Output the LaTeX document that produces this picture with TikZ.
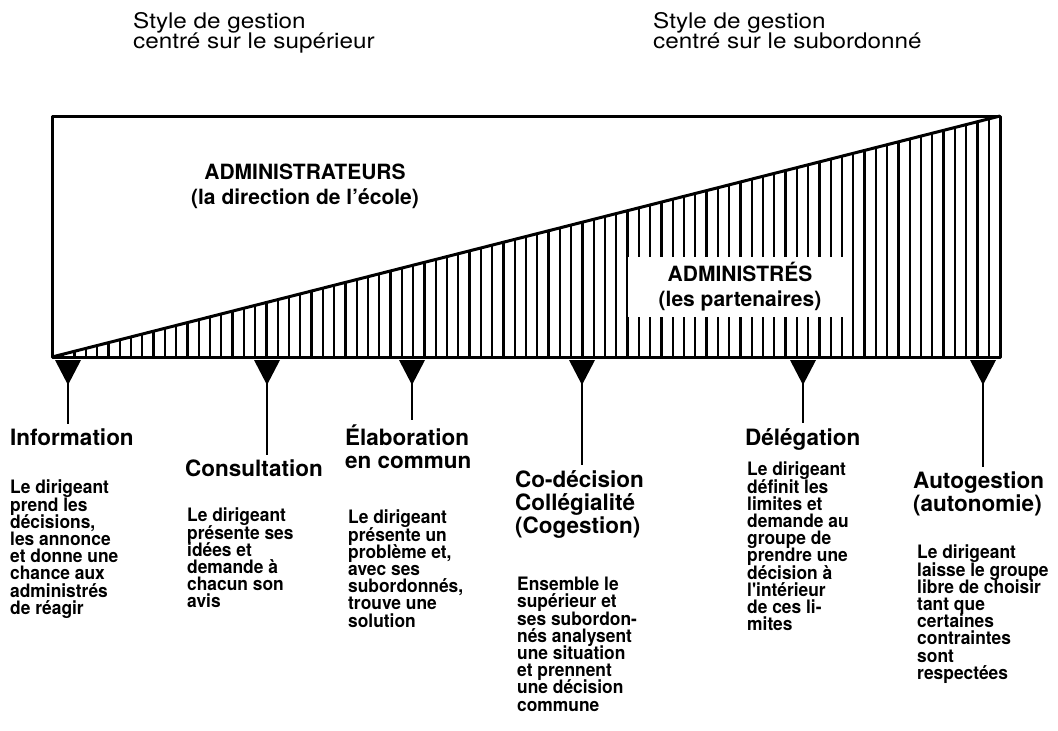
\documentclass[tikz,border=0pt]{standalone}
\usepackage{fontspec}
\setmainfont{TeX Gyre Heros}
\newfontfamily\widefont[FakeStretch=1.13]{TeX Gyre Heros}
\newfontfamily\narrowfont[FakeStretch=0.94]{TeX Gyre Heros}
\newcommand{\fsz}[2]{\fontsize{#1}{#2}\selectfont\lineskiplimit=-\maxdimen}

\begin{document}
\begin{tikzpicture}[x=1pt,y=-1pt,
	frame/.style={line width=3pt,line join=round},
	hatch/.style={line width=2.2pt},
	stem/.style={line width=2.5pt},
	top/.style={anchor=north west,inner sep=0pt,align=left,font=\widefont\fsz{21.5}{20.5}},
	head/.style={anchor=north west,inner sep=0pt,align=left,font=\fsz{22.5}{23}\bfseries},
	desc/.style={anchor=north west,inner sep=0pt,align=left,font=\narrowfont\fsz{18.5}{17.2}\bfseries},
	who/.style={align=center,inner sep=0pt,font=\fsz{21}{25}\bfseries}]
	\useasboundingbox (0,0) rectangle (1058,731);
	
	\coordinate (bl) at (52,357);
	\coordinate (tr) at (1000,116);
	
	\node[top] (sup) at (133,12) {Style de gestion\\centré sur le supérieur};
	\node[top] (sub) at (653,12) {Style de gestion\\centré sur le subordonné};
	
	\foreach \i in {1,...,83}
	{
		\pgfmathsetmacro{\hx}{52+\i*11.2857}
		\pgfmathsetmacro{\hy}{357-\i*2.869}
		\draw[hatch] (\hx,357) -- (\hx,\hy);
	}
	
	\node[who] (adm) at (305,186) {ADMINISTRATEURS\\(la direction de l'école)};
	\node[who,fill=white,minimum width=224pt,minimum height=60pt] (ads) at (740,287) {ADMINISTRÉS\\(les partenaires)};
	
	\draw[frame] (bl) rectangle (tr);
	\draw[frame] (bl) -- (tr);
	
	\node[head] (t1) at (10,429) {Information};
	\node[head] (t2) at (185,460) {Consultation};
	\node[head] (t3) at (345,425) {Élaboration\\en commun};
	\node[head] (t4) at (515,470) {Co-décision\\Collégialité\\(Cogestion)};
	\node[head] (t5) at (745,428) {Délégation};
	\node[head] (t6) at (913,472) {Autogestion\\(autonomie)};
	
	\node[desc] (d1) at (10,480) {Le dirigeant\\prend les\\décisions,\\les annonce\\et donne une\\chance aux\\administrés\\de réagir};
	\node[desc] (d2) at (187,508) {Le dirigeant\\présente ses\\idées et\\demande à\\chacun son\\avis};
	\node[desc] (d3) at (348,510) {Le dirigeant\\présente un\\problème et,\\avec ses\\subordonnés,\\trouve une\\solution};
	\node[desc] (d4) at (517,577) {Ensemble le\\supérieur et\\ses subordon-\\nés analysent\\une situation\\et prennent\\une décision\\commune};
	\node[desc] (d5) at (747,462) {Le dirigeant\\définit les\\limites et\\demande au\\groupe de\\prendre une\\décision à\\l'intérieur\\de ces li-\\mites};
	\node[desc] (d6) at (917,545) {Le dirigeant\\laisse le groupe\\libre de choisir\\tant que\\certaines\\contraintes\\sont\\respectées};
	
	\foreach \n/\x in {1/68,2/267,3/412,4/582,5/803,6/983}
	{
		\coordinate (m\n) at (\x,360);
		\fill (m\n) ++(-13,0) -- ++(26,0) -- ++(-13,25) -- cycle;
		\draw[stem,shorten >=5pt] (m\n) -- (m\n |- t\n.north);
	}
\end{tikzpicture}
\end{document}
